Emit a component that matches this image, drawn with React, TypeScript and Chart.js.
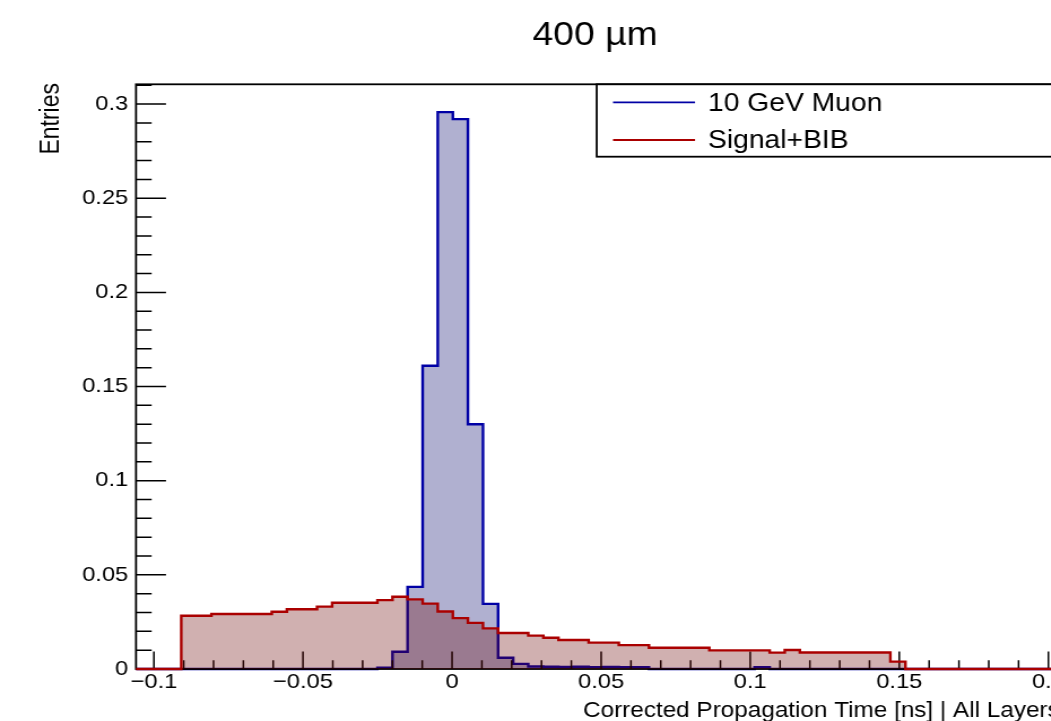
import { useEffect, useRef } from 'react';
import { Chart, registerables } from 'chart.js';

Chart.register(...registerables);

// ---------- data ----------
const titleText = '400 \u00b5m';
const xTitle = 'Corrected Propagation Time [ns] | All Layers';
const yTitle = 'Entries';
const seriesNames = ['10 GeV Muon', 'Signal+BIB'];

const xMin = -0.106;
const binWidth = 0.00506;
const nBins = 62;
const xMax = xMin + nBins * binWidth;
const yMax = 0.3105;

const muonValues = [
  0, 0, 0, 0, 0, 0, 0, 0, 0, 0, 0, 0, 0, 0, 0, 0,
  0.0007, 0.0092, 0.0436, 0.161, 0.2957, 0.292, 0.13, 0.0346, 0.006, 0.0027,
  0.0013, 0.0012, 0.0011, 0.0012, 0.001, 0.0011, 0.001, 0.0009,
  0, 0, 0, 0, 0, 0, 0,
  0.0009,
  0, 0, 0, 0, 0, 0, 0, 0, 0, 0, 0, 0, 0, 0, 0, 0, 0, 0, 0, 0,
];

const bibValues = [
  0, 0, 0,
  0.0283, 0.0283,
  0.0292, 0.0292, 0.0292, 0.0292,
  0.0304,
  0.0317, 0.0317,
  0.0331,
  0.0352, 0.0352, 0.0352,
  0.0366, 0.0384, 0.037, 0.0347, 0.0305, 0.027, 0.0245, 0.0216,
  0.0191, 0.0191,
  0.0177, 0.0166,
  0.0154, 0.0154,
  0.014, 0.014,
  0.0127, 0.0127,
  0.0113, 0.0113, 0.0113, 0.0113,
  0.0099, 0.0099, 0.0099, 0.0099,
  0.0087, 0.0101,
  0.0088, 0.0088, 0.0088, 0.0088, 0.0088, 0.0088,
  0.0039,
  0, 0, 0, 0, 0, 0, 0, 0, 0, 0, 0,
];

const xTickValues = [-0.1, -0.05, 0, 0.05, 0.1, 0.15, 0.2];
const yTickValues = [0, 0.05, 0.1, 0.15, 0.2, 0.25, 0.3];

// ---------- style / layout ----------
const SX = 1.13; // horizontal stretch of the reference rendering
const rx = (v: number) => v / SX;
const W = 1000;
const H = 721;
const FONT = '"Liberation Sans", Arial, Helvetica, sans-serif';
const BLUE_LINE = 'rgb(0,0,165)';
const RED_LINE = 'rgb(170,0,0)';
const BLUE_FILL = 'rgba(0,0,102,0.31)';
const RED_FILL = 'rgba(102,0,0,0.31)';

const fmt = (v: number) => String(parseFloat(v.toFixed(4))).replace('-', '\u2212');

function histPoints(values: number[]) {
  const pts: { x: number; y: number }[] = [];
  for (let i = 0; i <= nBins; i++) {
    pts.push({ x: xMin + i * binWidth, y: values[Math.min(i, nBins - 1)] });
  }
  return pts;
}

const framePlugin = {
  id: 'rootFrame',
  afterDatasetDraw(chart: any, args: any) {
    if (args.index !== 0) return;
    const { ctx, chartArea: a } = chart;
    const xs = chart.scales.x;
    const ys = chart.scales.y;
    ctx.save();
    ctx.strokeStyle = '#000';
    ctx.lineWidth = 1.8;
    ctx.strokeRect(a.left, a.top, a.right - a.left, a.bottom - a.top);
    ctx.lineWidth = 1.5;
    ctx.beginPath();
    for (let k = -10; k <= 20; k++) {
      const v = k / 100;
      const p = xs.getPixelForValue(v);
      const len = k % 5 === 0 ? 17.5 : 8.8;
      ctx.moveTo(p, a.bottom);
      ctx.lineTo(p, a.bottom - len);
    }
    for (let k = 0; k <= 31; k++) {
      const v = k / 100;
      if (v > yMax) break;
      const p = ys.getPixelForValue(v);
      const len = k % 5 === 0 ? rx(30) : rx(15.7);
      ctx.moveTo(a.left, p);
      ctx.lineTo(a.left + len, p);
    }
    ctx.stroke();
    ctx.restore();
  },
  afterDatasetsDraw(chart: any) {
    const { ctx } = chart;
    ctx.save();
    // legend box
    const l = rx(596.7), t = 84.3, r = rx(1071), b = 156.7;
    ctx.fillStyle = '#fff';
    ctx.fillRect(l, t, r - l, b - t);
    ctx.strokeStyle = '#000';
    ctx.lineWidth = 1.8;
    ctx.strokeRect(l, t, r - l, b - t);
    const rows = [
      { y: 102.3, base: 110.7, color: BLUE_LINE, text: seriesNames[0] },
      { y: 140, base: 148, color: RED_LINE, text: seriesNames[1] },
    ];
    ctx.font = `25px ${FONT}`;
    ctx.textAlign = 'left';
    ctx.textBaseline = 'alphabetic';
    for (const row of rows) {
      ctx.strokeStyle = row.color;
      ctx.lineWidth = 1.8;
      ctx.beginPath();
      ctx.moveTo(rx(613), row.y);
      ctx.lineTo(rx(695), row.y);
      ctx.stroke();
      ctx.fillStyle = '#000';
      ctx.fillText(row.text, rx(708), row.base);
    }
    ctx.restore();
  },
  afterDraw(chart: any) {
    const { ctx } = chart;
    ctx.save();
    ctx.fillStyle = '#000';
    ctx.textBaseline = 'alphabetic';
    ctx.font = `33px ${FONT}`;
    ctx.textAlign = 'center';
    ctx.fillText(titleText, rx(595), 45);
    ctx.font = `21.5px ${FONT}`;
    ctx.textAlign = 'left';
    ctx.fillText(xTitle, rx(583), 717);
    ctx.translate(rx(59.3), 83);
    ctx.rotate(-Math.PI / 2);
    ctx.font = `23px ${FONT}`;
    ctx.textAlign = 'right';
    ctx.fillText(yTitle, 0, 0);
    ctx.restore();
  },
};

export default function App() {
  const ref = useRef<HTMLCanvasElement>(null);
  useEffect(() => {
    const canvas = ref.current;
    if (!canvas) return;
    const chart = new Chart(canvas, {
      type: 'line',
      data: {
        datasets: [
          {
            label: seriesNames[0],
            data: histPoints(muonValues),
            stepped: true,
            borderColor: BLUE_LINE,
            backgroundColor: BLUE_FILL,
            borderWidth: 2.4,
            pointRadius: 0,
            fill: 'origin',
            order: 1,
            clip: false,
          } as any,
          {
            label: seriesNames[1],
            data: histPoints(bibValues),
            stepped: true,
            borderColor: RED_LINE,
            backgroundColor: RED_FILL,
            borderWidth: 2.4,
            pointRadius: 0,
            fill: 'origin',
            order: 0,
            clip: false,
          } as any,
        ],
      },
      options: {
        animation: false,
        responsive: false,
        devicePixelRatio: 1,
        events: [],
        layout: { padding: { left: 0, top: 84.3, right: W - rx(1071.4), bottom: 0 } },
        plugins: {
          legend: { display: false },
          title: { display: false },
          tooltip: { enabled: false },
        },
        scales: {
          x: {
            type: 'linear',
            min: xMin,
            max: xMax,
            grid: { display: false, drawTicks: false },
            border: { display: false },
            afterBuildTicks: (s: any) => {
              s.ticks = xTickValues.map((value) => ({ value }));
            },
            afterFit: (s: any) => {
              s.height = H - 669;
            },
            ticks: {
              autoSkip: false,
              maxRotation: 0,
              padding: 1,
              color: '#000',
              font: { family: FONT, size: 21 },
              callback: (v: any) => fmt(Number(v)),
            },
          },
          y: {
            type: 'linear',
            min: 0,
            max: yMax,
            grid: { display: false, drawTicks: false },
            border: { display: false },
            afterBuildTicks: (s: any) => {
              s.ticks = yTickValues.map((value) => ({ value }));
            },
            afterFit: (s: any) => {
              s.width = rx(136);
            },
            ticks: {
              autoSkip: false,
              padding: 6.8,
              color: '#000',
              font: { family: FONT, size: 21 },
              callback: (v: any) => fmt(Number(v)),
            },
          },
        },
      } as any,
      plugins: [framePlugin],
    });
    return () => chart.destroy();
  }, []);

  return (
    <div
      style={{
        position: 'fixed',
        left: 0,
        top: 0,
        width: 1051,
        height: H,
        overflow: 'hidden',
        background: '#fff',
      }}
    >
      <canvas
        ref={ref}
        width={W}
        height={H}
        style={{
          position: 'absolute',
          left: 0,
          top: 0,
          width: W,
          height: H,
          transform: `scaleX(${SX})`,
          transformOrigin: '0 0',
        }}
      />
    </div>
  );
}
